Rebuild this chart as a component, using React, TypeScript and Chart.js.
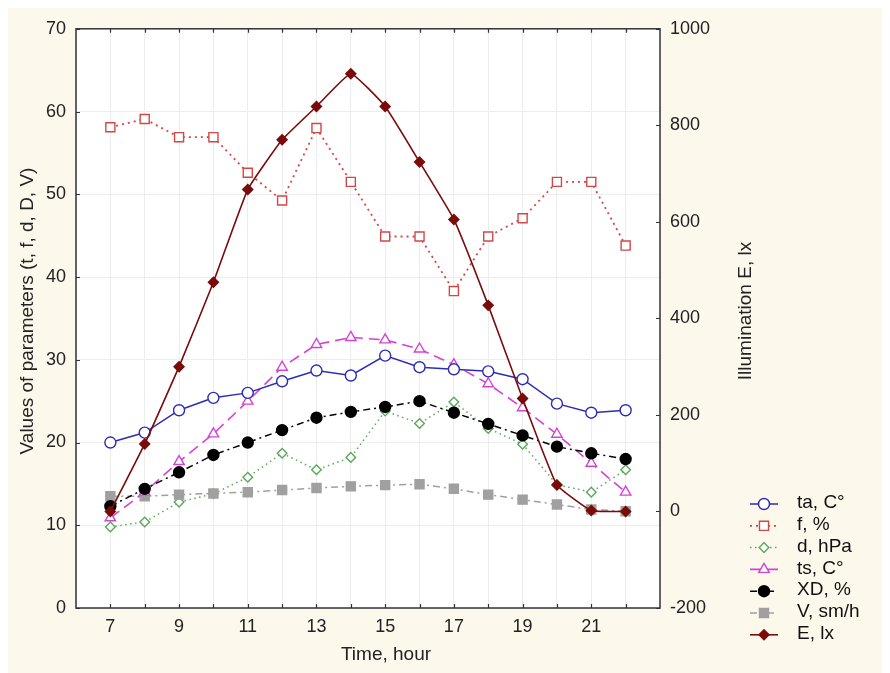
import { useEffect, useRef } from 'react';
import { Chart, registerables } from 'chart.js';

Chart.register(...registerables);

// Hours of observation
const hours = [7, 8, 9, 10, 11, 12, 13, 14, 15, 16, 17, 18, 19, 20, 21, 22];

// Parameter series (left axis)
const ta = [20.0, 21.2, 23.9, 25.4, 26.0, 27.4, 28.7, 28.1, 30.5, 29.1, 28.85, 28.6, 27.65, 24.7, 23.6, 23.9];
const f = [58.1, 59.1, 56.9, 56.9, 52.6, 49.25, 58.0, 51.5, 44.9, 44.9, 38.3, 44.9, 47.1, 51.5, 51.5, 43.8];
const d = [9.8, 10.4, 12.8, 13.8, 15.8, 18.7, 16.7, 18.2, 23.8, 22.3, 24.9, 21.7, 19.8, 14.9, 14.0, 16.7];
const ts = [10.9, 14.0, 17.7, 21.05, 25.0, 29.1, 31.85, 32.7, 32.4, 31.3, 29.4, 27.1, 24.2, 21.0, 17.5, 14.0];
const xd = [12.3, 14.4, 16.4, 18.5, 20.0, 21.5, 23.0, 23.7, 24.3, 25.0, 23.6, 22.25, 20.85, 19.5, 18.7, 18.0];
const v = [13.5, 13.5, 13.7, 13.85, 14.0, 14.25, 14.5, 14.7, 14.85, 14.95, 14.4, 13.7, 13.1, 12.5, 11.9, 11.7];

// Illumination (right axis)
const e = [0, 140, 300, 475, 667, 770, 839, 907, 839, 724, 605, 427, 234, 55, 2, 0];

// Axis ticks
const xLabelHours = [7, 9, 11, 13, 15, 17, 19, 21];
const leftTicks = [0, 10, 20, 30, 40, 50, 60, 70];
const rightTicks = [-200, 0, 200, 400, 600, 800, 1000];

const FONT = 'Arial, "Liberation Sans", sans-serif';
const CREAM = '#fdf8ec';
const FRAME = '#333333';

type Series = {
  label: string;
  values: number[];
  axis: 'y' | 'y1';
  color: string;
  dash: number[];
  width: number;
  point: 'circle' | 'rect' | 'rectRot' | 'triangle';
  radius: number;
  fill: string;
  order: number;
  tension: number;
};

const series: Series[] = [
  { label: 'ta, C°', values: ta, axis: 'y', color: '#2d2db4', dash: [], width: 1.5, point: 'circle', radius: 5.5, fill: '#ffffff', order: 2, tension: 0 },
  { label: 'f, %', values: f, axis: 'y', color: '#d04848', dash: [2, 4], width: 1.8, point: 'rect', radius: 6.4, fill: '#ffffff', order: 4, tension: 0 },
  { label: 'd, hPa', values: d, axis: 'y', color: '#5aa85a', dash: [1.5, 3.5], width: 1.5, point: 'rectRot', radius: 4.8, fill: '#ffffff', order: 6, tension: 0 },
  { label: 'ts, C°', values: ts, axis: 'y', color: '#d444d4', dash: [11, 6], width: 1.6, point: 'triangle', radius: 6, fill: '#ffffff', order: 3, tension: 0 },
  { label: 'XD, %', values: xd, axis: 'y', color: '#000000', dash: [7, 4, 2, 4], width: 1.5, point: 'circle', radius: 5.5, fill: '#000000', order: 1, tension: 0 },
  { label: 'V, sm/h', values: v, axis: 'y', color: '#a0a0a0', dash: [7, 4, 2, 4], width: 1.5, point: 'rect', radius: 6.4, fill: '#a0a0a0', order: 5, tension: 0 },
  { label: 'E, lx', values: e, axis: 'y1', color: '#7a0b0b', dash: [], width: 1.6, point: 'rectRot', radius: 5, fill: '#7a0b0b', order: 0, tension: 0.12 },
];

function drawMarker(ctx: CanvasRenderingContext2D, s: Series, x: number, y: number) {
  const r = s.radius;
  ctx.beginPath();
  if (s.point === 'circle') {
    ctx.arc(x, y, r, 0, Math.PI * 2);
  } else if (s.point === 'rect') {
    const h = r * Math.SQRT1_2;
    ctx.rect(x - h, y - h, 2 * h, 2 * h);
  } else if (s.point === 'rectRot') {
    ctx.moveTo(x - r, y);
    ctx.lineTo(x, y - r);
    ctx.lineTo(x + r, y);
    ctx.lineTo(x, y + r);
    ctx.closePath();
  } else {
    const side = (r * 3) / Math.sqrt(3);
    const height = (side * Math.sqrt(3)) / 2;
    ctx.moveTo(x, y - (2 * height) / 3);
    ctx.lineTo(x + side / 2, y + height / 3);
    ctx.lineTo(x - side / 2, y + height / 3);
    ctx.closePath();
  }
  ctx.setLineDash([]);
  ctx.fillStyle = s.fill;
  ctx.fill();
  ctx.lineWidth = 1.4;
  ctx.strokeStyle = s.color;
  ctx.stroke();
}

const decor = {
  id: 'decor',
  beforeDraw(chart: any) {
    const { ctx, chartArea: a, width, height } = chart;
    ctx.save();
    ctx.fillStyle = CREAM;
    ctx.fillRect(0, 0, width, height);
    ctx.fillStyle = '#ffffff';
    ctx.fillRect(a.left, a.top, a.right - a.left, a.bottom - a.top);
    ctx.restore();
  },
  afterDraw(chart: any) {
    const { ctx, chartArea: a, scales } = chart;
    const xs = scales.x;
    const yl = scales.y;
    const yr = scales.y1;
    ctx.save();

    // inward tick marks
    ctx.strokeStyle = FRAME;
    ctx.lineWidth = 1.2;
    ctx.setLineDash([]);
    ctx.beginPath();
    for (const h of hours) {
      const px = Math.round(xs.getPixelForValue(h)) + 0.5;
      ctx.moveTo(px, a.bottom);
      ctx.lineTo(px, a.bottom - 4);
      ctx.moveTo(px, a.top);
      ctx.lineTo(px, a.top + 4);
    }
    for (const t of leftTicks) {
      const py = Math.round(yl.getPixelForValue(t)) + 0.5;
      ctx.moveTo(a.left, py);
      ctx.lineTo(a.left + 4, py);
    }
    for (const t of rightTicks) {
      const py = Math.round(yr.getPixelForValue(t)) + 0.5;
      ctx.moveTo(a.right, py);
      ctx.lineTo(a.right - 4, py);
    }
    ctx.stroke();

    // plot frame
    ctx.lineWidth = 1.5;
    ctx.strokeRect(a.left, a.top, a.right - a.left, a.bottom - a.top);

    // axis titles
    ctx.fillStyle = '#222222';
    ctx.font = `19px ${FONT}`;
    ctx.textAlign = 'center';
    ctx.textBaseline = 'middle';
    ctx.fillText('Time, hour', 378, 647);

    ctx.save();
    ctx.translate(20, 303);
    ctx.rotate(-Math.PI / 2);
    ctx.fillText('Values of parameters (t, f, d, D, V)', 0, 0);
    ctx.restore();

    ctx.save();
    ctx.translate(738, 303);
    ctx.rotate(-Math.PI / 2);
    ctx.fillText('Illumination E, lx', 0, 0);
    ctx.restore();

    // legend
    const lx1 = 742;
    const lx2 = 770;
    const lxm = 756;
    const tx = 789;
    series.forEach((s, i) => {
      const y = 496 + i * 21.8;
      ctx.beginPath();
      ctx.setLineDash(s.dash);
      ctx.lineWidth = s.width;
      ctx.strokeStyle = s.color;
      ctx.moveTo(lx1, y);
      ctx.lineTo(lx2, y);
      ctx.stroke();
      drawMarker(ctx, s, lxm, y);
      ctx.fillStyle = '#111111';
      ctx.font = `19px ${FONT}`;
      ctx.textAlign = 'left';
      ctx.textBaseline = 'middle';
      ctx.fillText(s.label, tx, y - 1);
    });

    ctx.restore();
  },
};

export default function App() {
  const canvasRef = useRef<HTMLCanvasElement | null>(null);

  useEffect(() => {
    const canvas = canvasRef.current;
    if (!canvas) return;

    const datasets = series.map((s) => ({
      label: s.label,
      data: hours.map((h, i) => ({ x: h, y: s.values[i] })),
      yAxisID: s.axis,
      borderColor: s.color,
      backgroundColor: s.fill,
      borderWidth: s.width,
      borderDash: s.dash,
      pointStyle: s.point,
      pointRadius: s.radius,
      pointBorderWidth: 1.4,
      pointBorderColor: s.color,
      pointBackgroundColor: s.fill,
      tension: s.tension,
      order: s.order,
      fill: false,
    }));

    const tickFont = { family: FONT, size: 18 };

    const chart = new Chart(canvas, {
      type: 'line',
      data: { datasets },
      plugins: [decor],
      options: {
        animation: false,
        responsive: true,
        maintainAspectRatio: false,
        layout: { padding: { top: 17, left: 0, right: 0, bottom: 0 } },
        plugins: {
          legend: { display: false },
          tooltip: { enabled: false },
        },
        scales: {
          x: {
            type: 'linear',
            min: 6,
            max: 23,
            afterFit: (scale: any) => {
              scale.height = 65;
            },
            ticks: {
              stepSize: 1,
              autoSkip: false,
              maxRotation: 0,
              padding: 8,
              color: '#222222',
              font: tickFont,
              callback: (value: any) => (xLabelHours.includes(Number(value)) ? String(value) : ''),
            },
            grid: { color: '#ededed', lineWidth: 1, drawTicks: false },
            border: { display: false },
          },
          y: {
            type: 'linear',
            position: 'left',
            min: 0,
            max: 70,
            afterFit: (scale: any) => {
              scale.width = 68;
            },
            ticks: {
              stepSize: 10,
              padding: 10,
              color: '#222222',
              font: tickFont,
              callback: (value: any) => String(value),
            },
            grid: { color: '#ededed', lineWidth: 1, drawTicks: false },
            border: { display: false },
          },
          y1: {
            type: 'linear',
            position: 'right',
            min: -200,
            max: 1000,
            afterFit: (scale: any) => {
              scale.width = 222;
            },
            ticks: {
              stepSize: 200,
              padding: 10,
              color: '#222222',
              font: tickFont,
              callback: (value: any) => String(value),
            },
            grid: { display: false, drawTicks: false },
            border: { display: false },
          },
        },
      },
    });

    return () => {
      chart.destroy();
    };
  }, []);

  return (
    <div style={{ width: 874, height: 665, position: 'relative', background: CREAM }}>
      <canvas ref={canvasRef} />
    </div>
  );
}
